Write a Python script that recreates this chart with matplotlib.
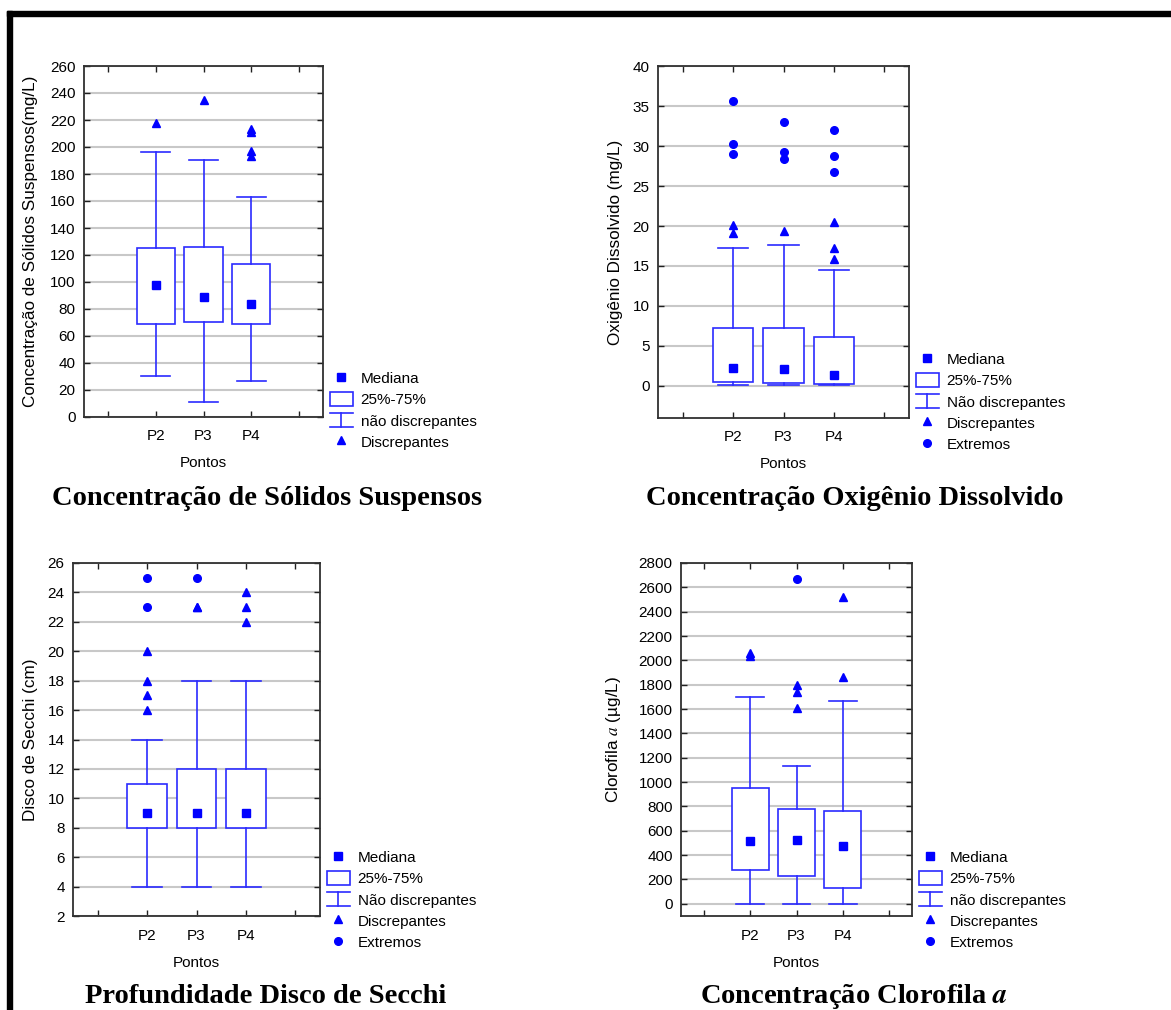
import matplotlib
matplotlib.use('Agg')
import matplotlib.pyplot as plt
from matplotlib.lines import Line2D
from matplotlib.patches import Rectangle
from matplotlib.legend_handler import HandlerBase

plt.rcParams['font.family'] = ['Liberation Sans', 'DejaVu Sans']
plt.rcParams['mathtext.fontset'] = 'stix'

W, H = 1171, 1010
pontos = ['P2', 'P3', 'P4']
posicoes = [2, 3, 4]

# Sólidos suspensos (mg/L)
ss_whislo = [30, 11, 27]
ss_q1 = [69, 70, 69]
ss_med = [98, 89, 84]
ss_q3 = [125, 126, 113]
ss_whishi = [196, 190, 163]
ss_discrep = [[218], [235], [193, 197, 211, 213]]
ss_extremos = [[], [], []]

# Oxigênio dissolvido (mg/L)
od_whislo = [0.1, 0.1, 0.1]
od_q1 = [0.5, 0.35, 0.25]
od_med = [2.3, 2.1, 1.35]
od_q3 = [7.2, 7.3, 6.1]
od_whishi = [17.2, 17.6, 14.5]
od_discrep = [[19.1, 20.1], [19.4], [15.9, 17.3, 20.5]]
od_extremos = [[29.0, 30.3, 35.6], [28.4, 29.2, 33.0], [26.7, 28.8, 32.0]]

# Disco de Secchi (cm)
ds_whislo = [4, 4, 4]
ds_q1 = [8, 8, 8]
ds_med = [9, 9, 9]
ds_q3 = [11, 12, 12]
ds_whishi = [14, 18, 18]
ds_discrep = [[16, 17, 18, 20], [23, 23], [22, 23, 24]]
ds_extremos = [[23, 25], [25], []]

# Clorofila a (ug/L)
cl_whislo = [0, 0, 0]
cl_q1 = [274, 231, 132]
cl_med = [513, 521, 475]
cl_q3 = [955, 780, 760]
cl_whishi = [1696, 1131, 1663]
cl_discrep = [[2035, 2060], [1611, 1743, 1798], [1861, 2523]]
cl_extremos = [[], [2668], []]

LINHA = '#2b2bff'
AZUL = '#0000ff'


class HandlerBigode(HandlerBase):
    def create_artists(self, legend, orig_handle, xdescent, ydescent,
                       width, height, fontsize, trans):
        x0, x1 = -xdescent, -xdescent + width
        xm = (x0 + x1) / 2
        y0, y1 = -ydescent, -ydescent + height
        arts = [Line2D([x0, x1], [y1, y1]), Line2D([xm, xm], [y0, y1]),
                Line2D([x0, x1], [y0, y0])]
        for a in arts:
            a.set_color(LINHA)
            a.set_linewidth(1.2)
            a.set_transform(trans)
        return arts


def painel(fig, px, whislo, q1, med, q3, whishi, discrep, extremos,
           ylim, yticks, ylabel, ylabel_x, titulo, titulo_xy, leg_xy,
           txt_nao, com_extremos):
    l, r, t, b = px
    ax = fig.add_axes([l / W, 1 - b / H, (r - l) / W, (b - t) / H])
    stats = []
    for i in range(3):
        stats.append(dict(med=med[i], q1=q1[i], q3=q3[i],
                          whislo=whislo[i], whishi=whishi[i], fliers=[]))
    ax.bxp(stats, positions=posicoes, widths=0.8, capwidths=0.6,
           showfliers=False, patch_artist=True,
           boxprops=dict(facecolor='white', edgecolor=LINHA, linewidth=1.2),
           whiskerprops=dict(color=LINHA, linewidth=1.2),
           capprops=dict(color=LINHA, linewidth=1.2),
           medianprops=dict(linestyle='none'), zorder=3)
    ax.plot(posicoes, med, 's', color=AZUL, markersize=6, zorder=4)
    for p, d in zip(posicoes, discrep):
        ax.plot([p] * len(d), d, '^', color=AZUL, markersize=5.5, zorder=4)
    for p, e in zip(posicoes, extremos):
        ax.plot([p] * len(e), e, 'o', color=AZUL, markersize=5.5, zorder=4)

    ax.set_xlim(0.5, 5.5)
    ax.set_ylim(*ylim)
    ax.set_xticks([1, 2, 3, 4, 5])
    ax.set_xticklabels([''] + pontos + [''])
    ax.set_yticks(yticks)
    ax.yaxis.grid(True, color='#c8c8c8', linewidth=1.5, zorder=0)
    ax.set_axisbelow(True)
    ax.tick_params(direction='in', top=True, right=True, length=4,
                   width=1, labelsize=11, colors='#202020',
                   labelcolor='black')
    ax.tick_params(axis='x', pad=9)
    ax.tick_params(axis='y', pad=6)
    for s in ax.spines.values():
        s.set_color('#303030')
        s.set_linewidth(1.3)
    ax.set_xlabel('Pontos', fontsize=11)
    ax.xaxis.set_label_coords(0.5, -0.112)
    ax.xaxis.label.set_va('top')
    ax.set_ylabel(ylabel, fontsize=12.3)
    ax.yaxis.set_label_coords(ylabel_x, 0.5)

    handles = [Line2D([], [], marker='s', color=AZUL, linestyle='none', markersize=6),
               Rectangle((0, 0), 1, 1, facecolor='white', edgecolor=LINHA, linewidth=1.2),
               Line2D([], [], color=LINHA),
               Line2D([], [], marker='^', color=AZUL, linestyle='none', markersize=5.5)]
    labels = ['Mediana', '25%-75%', txt_nao, 'Discrepantes']
    if com_extremos:
        handles.append(Line2D([], [], marker='o', color=AZUL, linestyle='none', markersize=5.5))
        labels.append('Extremos')
    ax.legend(handles, labels, loc='upper left',
              bbox_to_anchor=(leg_xy[0] / W, 1 - leg_xy[1] / H),
              bbox_transform=fig.transFigure, frameon=False, fontsize=11,
              borderpad=0, borderaxespad=0, handlelength=1.5,
              handleheight=1.05, handletextpad=0.5, labelspacing=0.38,
              handler_map={handles[2]: HandlerBigode()})

    fig.text(titulo_xy[0] / W, 1 - titulo_xy[1] / H, titulo,
             family=['Liberation Serif', 'DejaVu Serif'], weight='bold',
             fontsize=20.5, ha='center', va='baseline')
    return ax


fig = plt.figure(figsize=(W / 100, H / 100), dpi=100)

painel(fig, (84, 323, 66, 417), ss_whislo, ss_q1, ss_med, ss_q3, ss_whishi,
       ss_discrep, ss_extremos, (0, 260), range(0, 261, 20),
       'Concentração de Sólidos Suspensos(mg/L)', -0.192,
       'Concentração de Sólidos Suspensos', (267, 505), (330, 371),
       'não discrepantes', False)

painel(fig, (658, 909, 66, 418), od_whislo, od_q1, od_med, od_q3, od_whishi,
       od_discrep, od_extremos, (-4, 40), range(0, 41, 5),
       'Oxigênio Dissolvido (mg/L)', -0.138,
       'Concentração Oxigênio Dissolvido', (855, 505), (916, 352),
       'Não discrepantes', True)

painel(fig, (73, 320, 563, 916), ds_whislo, ds_q1, ds_med, ds_q3, ds_whishi,
       ds_discrep, ds_extremos, (2, 26), range(2, 27, 2),
       'Disco de Secchi (cm)', -0.140,
       'Profundidade Disco de Secchi', (266, 1003), (327, 850),
       'Não discrepantes', True)

painel(fig, (681, 912, 563, 916), cl_whislo, cl_q1, cl_med, cl_q3, cl_whishi,
       cl_discrep, cl_extremos, (-100, 2800), range(0, 2801, 200),
       'Clorofila $\\mathit{a}$ (µg/L)', -0.252,
       'Concentração Clorofila $\\mathbfit{a}$', (854, 1003), (919, 850),
       'não discrepantes', True)

# moldura preta (topo e esquerda)
fig.patches.append(Rectangle((7 / W, 1 - 16 / H), (W - 7) / W, 5 / H,
                             transform=fig.transFigure, color='black'))
fig.patches.append(Rectangle((7 / W, 0), 5 / W, 1 - 11 / H,
                             transform=fig.transFigure, color='black'))

fig.savefig('out.png', dpi=100, facecolor='white')
